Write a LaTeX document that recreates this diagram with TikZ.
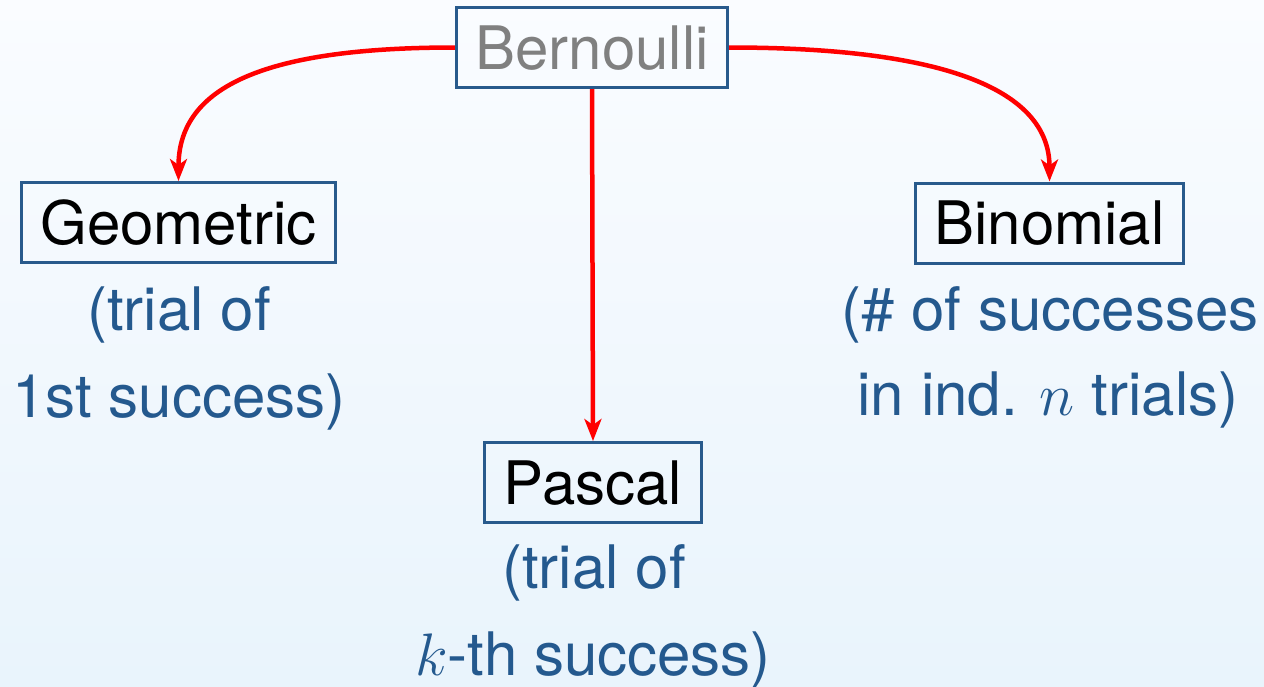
\RequirePackage{fix-cm}
\documentclass[tikz,border=0pt]{standalone}
\usepackage{fontspec}
\setmainfont{TeX Gyre Heros}
\usetikzlibrary{arrows.meta}
\definecolor{boxblue}{RGB}{40,90,140}
\definecolor{txtblue}{RGB}{36,89,142}
\definecolor{arrred}{RGB}{255,0,0}
\definecolor{bgtop}{RGB}{250,252,255}
\definecolor{bgbot}{RGB}{233,244,252}
\tikzset{
  dist/.style={draw=boxblue, line width=3pt, fill=none, inner xsep=19pt, inner ysep=18.5pt,
    text height=43pt, text depth=0pt, font=\fontsize{60}{72}\selectfont},
  desc/.style={anchor=base, text=txtblue, inner sep=0pt, font=\fontsize{60}{72}\selectfont},
  link/.style={draw=arrred, line width=4.5pt, -{Stealth[length=22pt,width=17pt,inset=6pt]}}
}
\begin{document}
\begin{tikzpicture}[x=1pt,y=-1pt]
\useasboundingbox (0,0) rectangle (1264,686);
\shade[top color=bgtop, bottom color=bgbot] (0,0) rectangle (1264,686);

\node[dist, text=gray] (bern) at (592,47.5) {Bernoulli};
\node[dist] (geo) at (178.5,222.5) {Geometric};
\node[dist] (pas) at (593,482.5) {Pascal};
\node[dist] (bin) at (1049.5,223) {Binomial};

\node[desc] (g1) at (179,330) {(trial of};
\node[desc] (g2) at (179,417) {1st success)};
\node[desc] (p1) at (594,588) {(trial of};
\node[desc] (p2) at (593,675) {$k$-th success)};
\node[desc] (b1) at (1050,330) {(\# of successes};
\node[desc] (b2) at (1048,415) {in ind. $n$ trials)};

\draw[link] (bern.west) .. controls +(-200,0) and +(0,-90) .. (geo.north);
\draw[link] (bern.east) .. controls +(220,0) and +(0,-90) .. (bin.north);
\draw[link] (bern.south) -- (pas.north);
\end{tikzpicture}
\end{document}
